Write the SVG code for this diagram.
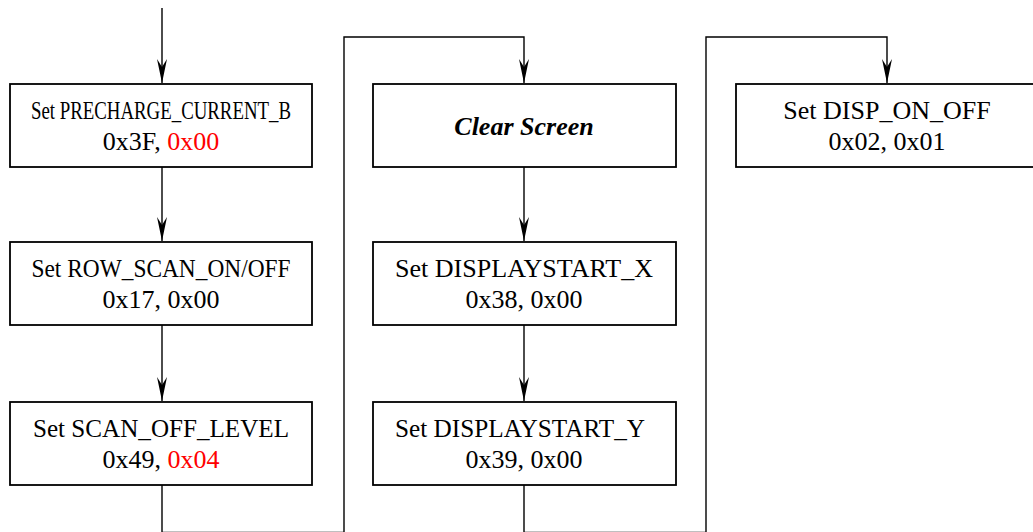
<svg xmlns="http://www.w3.org/2000/svg" width="1033" height="532" viewBox="0 0 1033 532">
<style>
.box{fill:#fff;stroke:#000;stroke-width:1.8}
.t{font-family:"Liberation Serif","Times New Roman",serif;font-size:26px;fill:#000;text-anchor:middle}
.r{fill:#ff0000}
.bi{font-weight:bold;font-style:italic}
.c{fill:none;stroke:#000;stroke-width:1.4}
</style>
<defs>
<marker id="ah" markerUnits="userSpaceOnUse" markerWidth="12" markerHeight="26" viewBox="-6 -25 12 26" refX="0" refY="0" orient="auto-start-reverse" overflow="visible">
<path d="M0,0 L-5,-24 L0,-16 L5,-24 Z" fill="#000" transform="rotate(-90)"/>
</marker>
</defs>
<rect width="1033" height="532" fill="#fff"/>
<g id="connectors">
<path class="c" d="M162,8 V83" marker-end="url(#ah)"/>
<path class="c" d="M162,167 V241" marker-end="url(#ah)"/>
<path class="c" d="M162,325 V401" marker-end="url(#ah)"/>
<path class="c" d="M162,485 V532.5 H344 V37 H524 V83" marker-end="url(#ah)"/>
<path class="c" d="M524,167 V241" marker-end="url(#ah)"/>
<path class="c" d="M524,325 V401" marker-end="url(#ah)"/>
<path class="c" d="M524,485 V532.5 H706 V37 H887 V83" marker-end="url(#ah)"/>
</g>
<g id="n1">
<rect class="box" x="10" y="84" width="302" height="83"/>
<text class="t" x="161" y="119" font-size="22" textLength="260" lengthAdjust="spacingAndGlyphs">Set PRECHARGE_CURRENT_B</text>
<text class="t" x="161" y="150">0x3F, <tspan class="r">0x00</tspan></text>
</g>
<g id="n2">
<rect class="box" x="10" y="242" width="302" height="83"/>
<text class="t" x="161" y="277" textLength="259" lengthAdjust="spacingAndGlyphs">Set ROW_SCAN_ON/OFF</text>
<text class="t" x="161" y="308">0x17, 0x00</text>
</g>
<g id="n3">
<rect class="box" x="10" y="402" width="302" height="83"/>
<text class="t" x="161" y="437" textLength="256" lengthAdjust="spacingAndGlyphs">Set SCAN_OFF_LEVEL</text>
<text class="t" x="161" y="468">0x49, <tspan class="r">0x04</tspan></text>
</g>
<g id="n4">
<rect class="box" x="373" y="84" width="303" height="83"/>
<text class="t bi" x="524" y="135">Clear Screen</text>
</g>
<g id="n5">
<rect class="box" x="373" y="242" width="303" height="83"/>
<text class="t" x="524" y="277" textLength="258" lengthAdjust="spacingAndGlyphs">Set DISPLAYSTART_X</text>
<text class="t" x="524" y="308">0x38, 0x00</text>
</g>
<g id="n6">
<rect class="box" x="373" y="402" width="303" height="83"/>
<text class="t" x="520" y="437" textLength="250" lengthAdjust="spacingAndGlyphs">Set DISPLAYSTART_Y</text>
<text class="t" x="524" y="468">0x39, 0x00</text>
</g>
<g id="n7">
<rect class="box" x="736" y="84" width="302" height="83"/>
<text class="t" x="887" y="119">Set DISP_ON_OFF</text>
<text class="t" x="887" y="150">0x02, 0x01</text>
</g>
</svg>
